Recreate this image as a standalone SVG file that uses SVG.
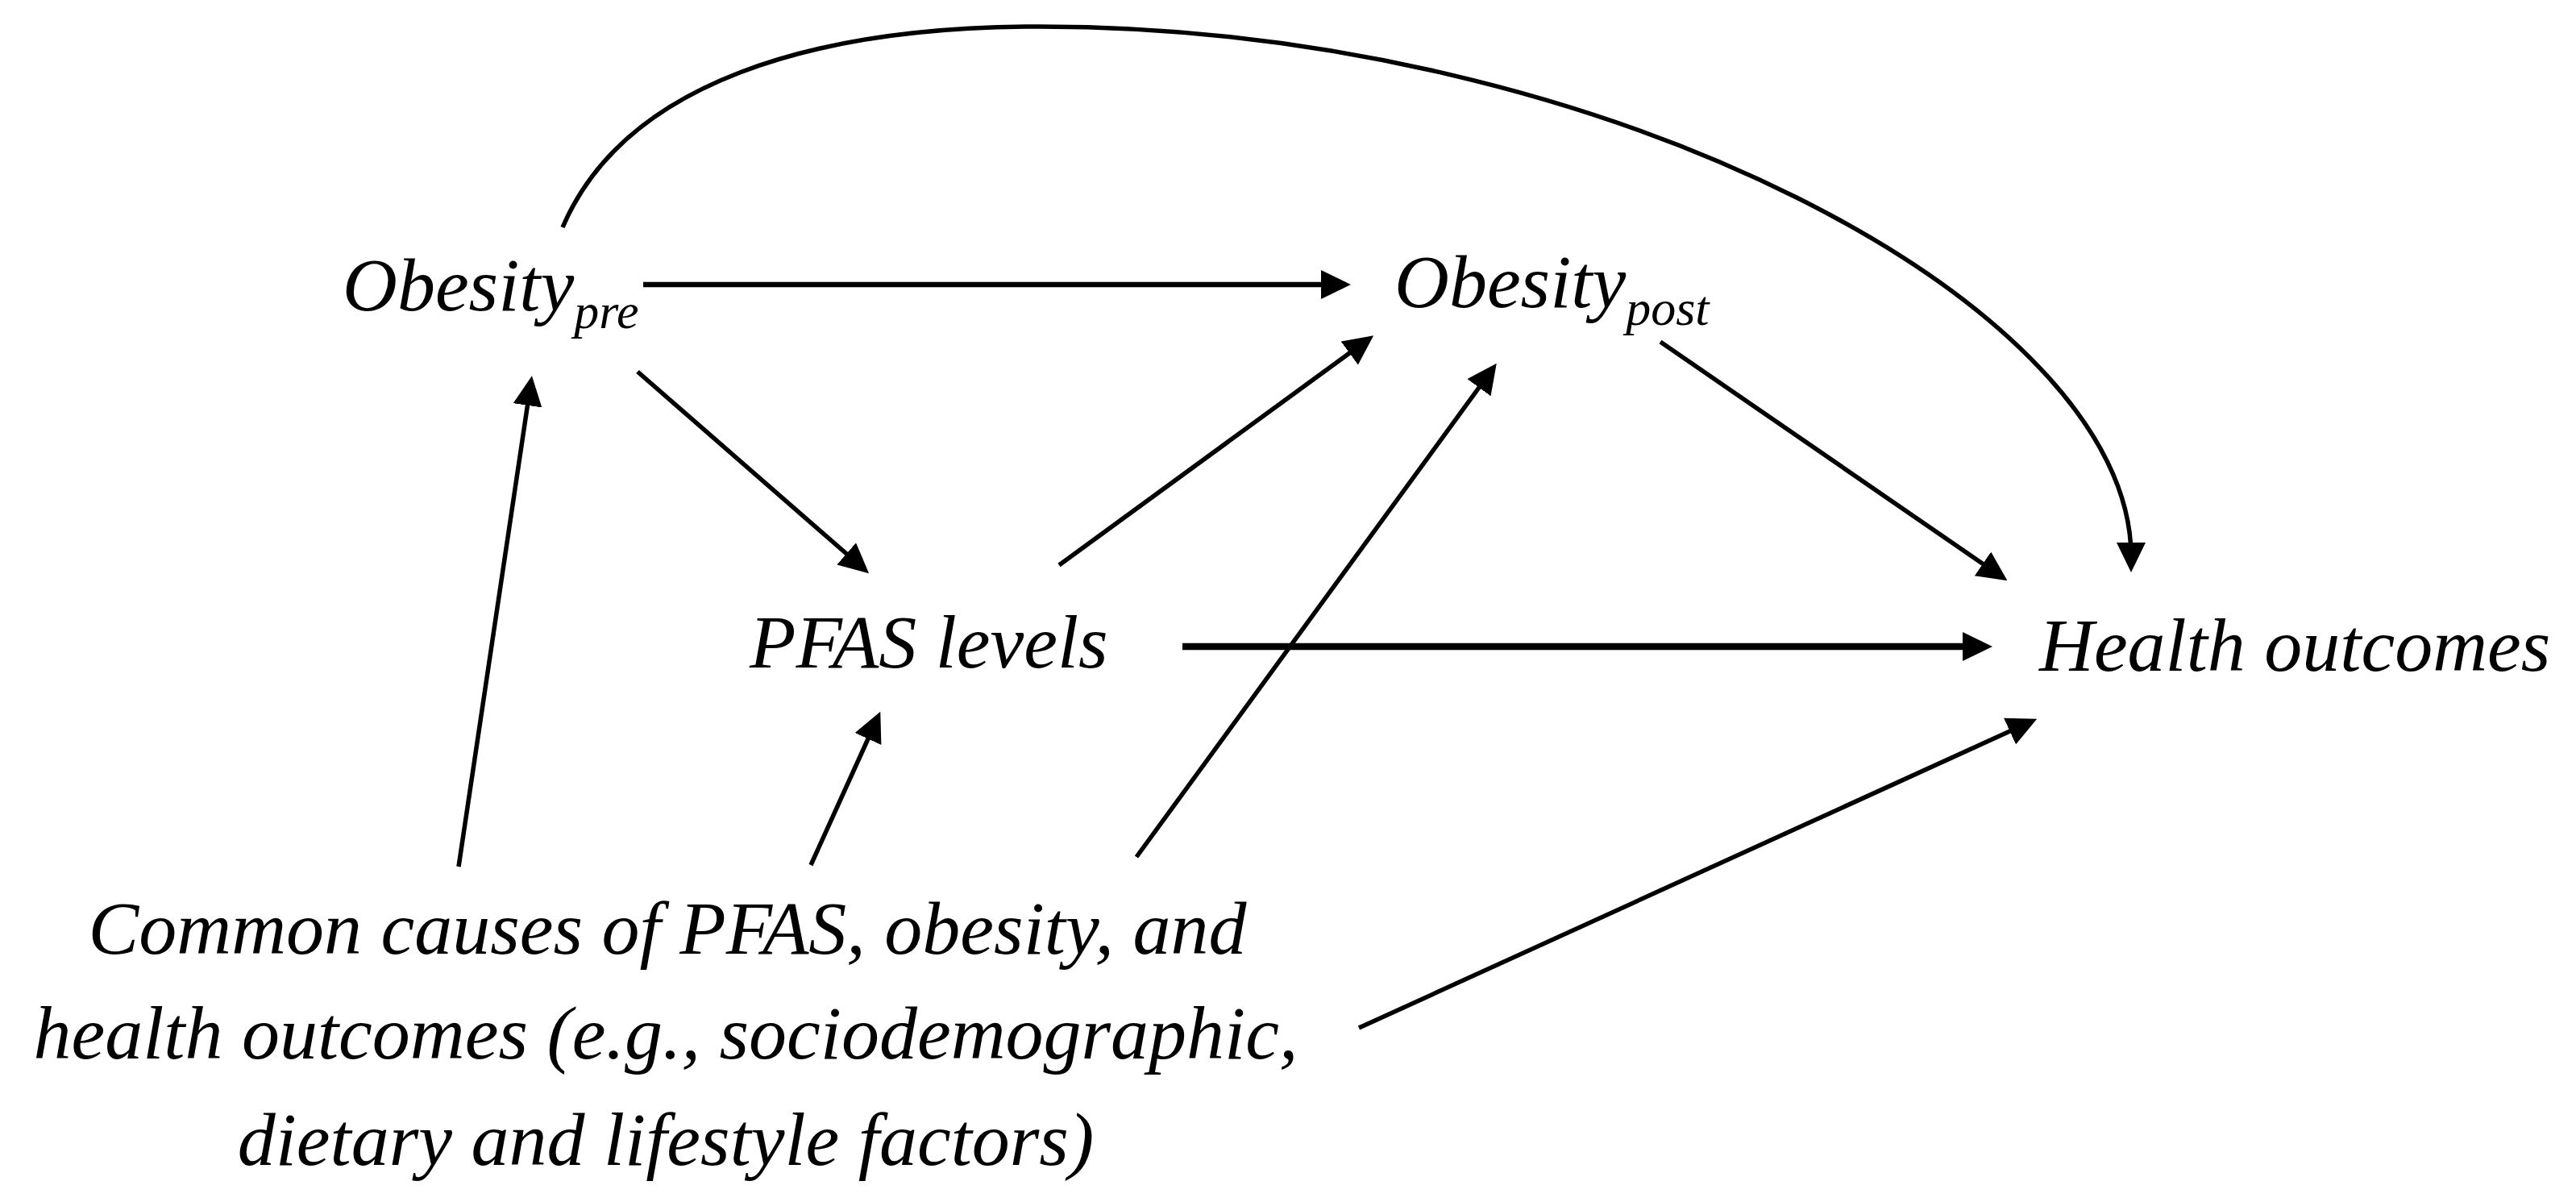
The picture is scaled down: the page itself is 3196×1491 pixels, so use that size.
<svg xmlns="http://www.w3.org/2000/svg" width="3196" height="1491" viewBox="0 0 3196 1491">
<style>
.lbl{font-family:"Liberation Serif","Times New Roman",serif;font-style:italic;font-size:94px;fill:#000}
.sub{font-size:62px}
.edge{fill:none;stroke:#000;stroke-width:5.5;marker-end:url(#ah)}
.thick{stroke-width:6.5}
.thicker{stroke-width:8.5}
</style>
<defs>
<marker id="ah" markerUnits="userSpaceOnUse" viewBox="0 0 37 36" refX="17" refY="18" markerWidth="37" markerHeight="36" orient="auto">
<path d="M0,0 L37,18 L0,36 Z" fill="#000"/>
</marker>
</defs>
<rect width="3196" height="1491" fill="#fff"/>
<g id="connectors">
<path class="edge thick" d="M798,353 L1656,353"/>
<path class="edge" d="M791,461 L1063,698"/>
<path class="edge" d="M569,1075 L657,486"/>
<path class="edge" d="M1006,1073 L1084,901"/>
<path class="edge" d="M1314,701 L1688,428"/>
<path class="edge" d="M1410,1063 L1845,467"/>
<path class="edge thicker" d="M1467,802 L2452,802"/>
<path class="edge" d="M2060,424 L2474,709"/>
<path class="edge" d="M1686,1275 L2509,900"/>
<path class="edge" d="M698,282 C775,102 1010,33 1290,33 C1990,33 2644,380 2644,690"/>
</g>
<g id="node-obesity-pre">
<text class="lbl" x="425" y="385">Obesity<tspan class="sub" dy="22">pre</tspan></text>
</g>
<g id="node-obesity-post">
<text class="lbl" x="1730" y="381">Obesity<tspan class="sub" dy="22">post</tspan></text>
</g>
<g id="node-pfas">
<text class="lbl" x="930" y="828">PFAS levels</text>
</g>
<g id="node-health">
<text class="lbl" x="2530" y="832">Health outcomes</text>
</g>
<g id="node-common">
<text class="lbl" text-anchor="middle" x="828" y="1183">Common causes of PFAS, obesity, and</text>
<text class="lbl" text-anchor="middle" x="826" y="1313">health outcomes (e.g., sociodemographic,</text>
<text class="lbl" text-anchor="middle" x="826" y="1445">dietary and lifestyle factors)</text>
</g>
</svg>
